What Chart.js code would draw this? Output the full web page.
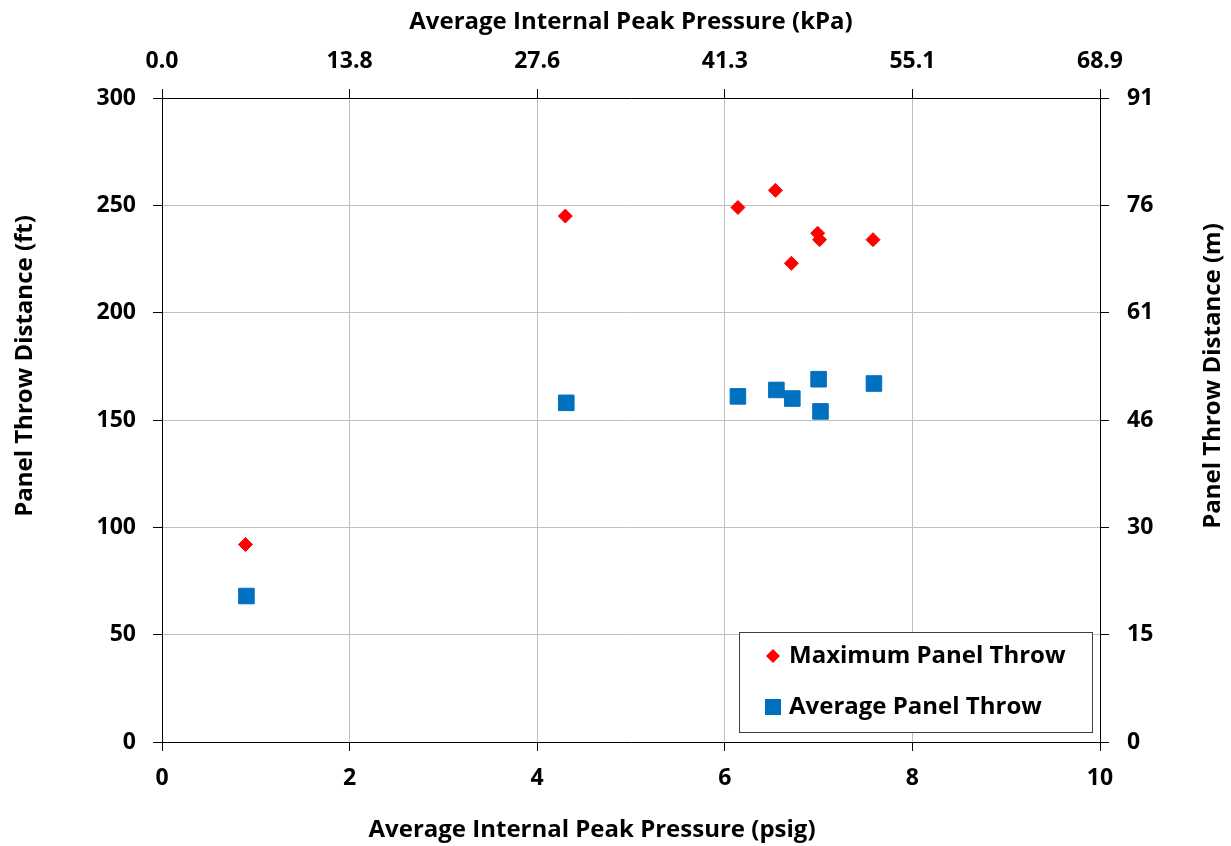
<!DOCTYPE html>
<html>
<head>
<meta charset="utf-8">
<script src="https://cdn.jsdelivr.net/npm/chart.js@4.4.1/dist/chart.umd.min.js"></script>
<style>
  html, body { margin: 0; padding: 0; background: #fff; }
  canvas { display: block; }
</style>
</head>
<body>
<canvas id="chart" width="1231" height="846"></canvas>
<script>
// data
const maxPressure = [0.89, 4.30, 6.14, 6.54, 6.99, 7.01, 7.58, 6.71];
const maxThrow    = [92, 245, 249, 257, 237, 234, 234, 223];
const avgPressure = [0.90, 4.31, 6.14, 6.55, 6.72, 7.00, 7.02, 7.59];
const avgThrow    = [68, 158, 161, 164, 160, 169, 154, 167];

const seriesLabels = ['Maximum Panel Throw', 'Average Panel Throw'];
const kpaTickLabels = ['0.0', '13.8', '27.6', '41.3', '55.1', '68.9'];
const meterTickLabels = ['0', '15', '30', '46', '61', '76', '91'];

const FONT = '"Open Sans", Lato, sans-serif';
const GRID = '#bfbfbf';

function toPoints(xs, ys) {
    return xs.map((x, i) => ({ x: x, y: ys[i] }));
}

// axis titles, placed like the original (not centred on the plot)
const axisTitles = {
    id: 'axisTitles',
    afterDraw(chart) {
        const ctx = chart.ctx;
        ctx.save();
        ctx.fillStyle = '#000';
        ctx.font = 'bold 24px ' + FONT;
        ctx.textAlign = 'center';
        ctx.textBaseline = 'middle';
        ctx.fillText('Average Internal Peak Pressure (kPa)', 631, 22);
        ctx.fillText('Average Internal Peak Pressure (psig)', 592, 830);
        ctx.translate(25, 366);
        ctx.rotate(-Math.PI / 2);
        ctx.fillText('Panel Throw Distance (ft)', 0, 0);
        ctx.restore();
        ctx.save();
        ctx.fillStyle = '#000';
        ctx.font = 'bold 24px ' + FONT;
        ctx.textAlign = 'center';
        ctx.textBaseline = 'middle';
        ctx.translate(1213, 376);
        ctx.rotate(-Math.PI / 2);
        ctx.fillText('Panel Throw Distance (m)', 0, 0);
        ctx.restore();
    }
};

// legend box inside the plot, bottom right
const boxLegend = {
    id: 'boxLegend',
    afterDraw(chart) {
        const ctx = chart.ctx;
        const area = chart.chartArea;
        const x0 = area.right - 361, y0 = area.bottom - 110, w = 353, h = 100;
        ctx.save();
        ctx.fillStyle = '#fff';
        ctx.fillRect(x0, y0, w, h);
        ctx.strokeStyle = '#404040';
        ctx.lineWidth = 1;
        ctx.strokeRect(x0 + 0.5, y0 + 0.5, w, h);
        ctx.font = 'bold 24px ' + FONT;
        ctx.textBaseline = 'middle';
        chart.data.datasets.forEach((ds, i) => {
            const cy = y0 + 24 + i * 51;
            const cx = x0 + 34;
            ctx.fillStyle = ds.backgroundColor;
            if (ds.pointStyle === 'rectRot') {
                ctx.beginPath();
                ctx.moveTo(cx, cy - 7);
                ctx.lineTo(cx + 7, cy);
                ctx.lineTo(cx, cy + 7);
                ctx.lineTo(cx - 7, cy);
                ctx.closePath();
                ctx.fill();
            } else {
                ctx.fillRect(cx - 8, cy - 8, 16, 16);
            }
            ctx.fillStyle = '#000';
            ctx.fillText(ds.label, x0 + 50, cy);
        });
        ctx.restore();
    }
};

const tickFont = { family: FONT, size: 23, weight: 'bold' };

new Chart(document.getElementById('chart'), {
    type: 'scatter',
    data: {
        datasets: [{
            label: seriesLabels[0],
            data: toPoints(maxPressure, maxThrow),
            pointStyle: 'rectRot',
            pointRadius: 7,
            pointHoverRadius: 7,
            borderWidth: 1,
            backgroundColor: '#ff0000',
            borderColor: '#ff0000',
            xAxisID: 'x',
            yAxisID: 'y'
        }, {
            label: seriesLabels[1],
            data: toPoints(avgPressure, avgThrow),
            pointStyle: 'rect',
            pointRadius: 11,
            pointHoverRadius: 11,
            borderWidth: 1,
            backgroundColor: '#0070c0',
            borderColor: '#0070c0',
            xAxisID: 'x',
            yAxisID: 'y'
        }]
    },
    options: {
        responsive: false,
        animation: false,
        layout: { padding: 0 },
        plugins: {
            legend: { display: false },
            tooltip: { enabled: false }
        },
        scales: {
            x: {
                position: 'bottom',
                min: 0, max: 10,
                afterFit: s => { s.height = 104; },
                ticks: { stepSize: 2, color: '#000', font: tickFont, padding: 14, maxRotation: 0 },
                grid: { color: GRID, tickColor: '#000', tickLength: 9 },
                border: { color: '#000', width: 1 }
            },
            x2: {
                position: 'top',
                min: 0, max: 10,
                afterFit: s => { s.height = 98; },
                ticks: {
                    stepSize: 2, color: '#000', font: tickFont, padding: 14, maxRotation: 0,
                    callback: (v, i) => kpaTickLabels[i]
                },
                grid: { drawOnChartArea: false, tickColor: '#000', tickLength: 9 },
                border: { color: '#000', width: 1 }
            },
            y: {
                position: 'left',
                min: 0, max: 300,
                afterFit: s => { s.width = 162; },
                ticks: { stepSize: 50, color: '#000', font: tickFont, padding: 17 },
                grid: { color: GRID, tickColor: '#000', tickLength: 9 },
                border: { color: '#000', width: 1 }
            },
            y2: {
                position: 'right',
                min: 0, max: 300,
                afterFit: s => { s.width = 131; },
                ticks: {
                    stepSize: 50, color: '#000', font: tickFont, padding: 18,
                    callback: (v, i) => meterTickLabels[i]
                },
                grid: { drawOnChartArea: false, tickColor: '#000', tickLength: 9 },
                border: { color: '#000', width: 1 }
            }
        }
    },
    plugins: [axisTitles, boxLegend]
});
</script>
</body>
</html>
